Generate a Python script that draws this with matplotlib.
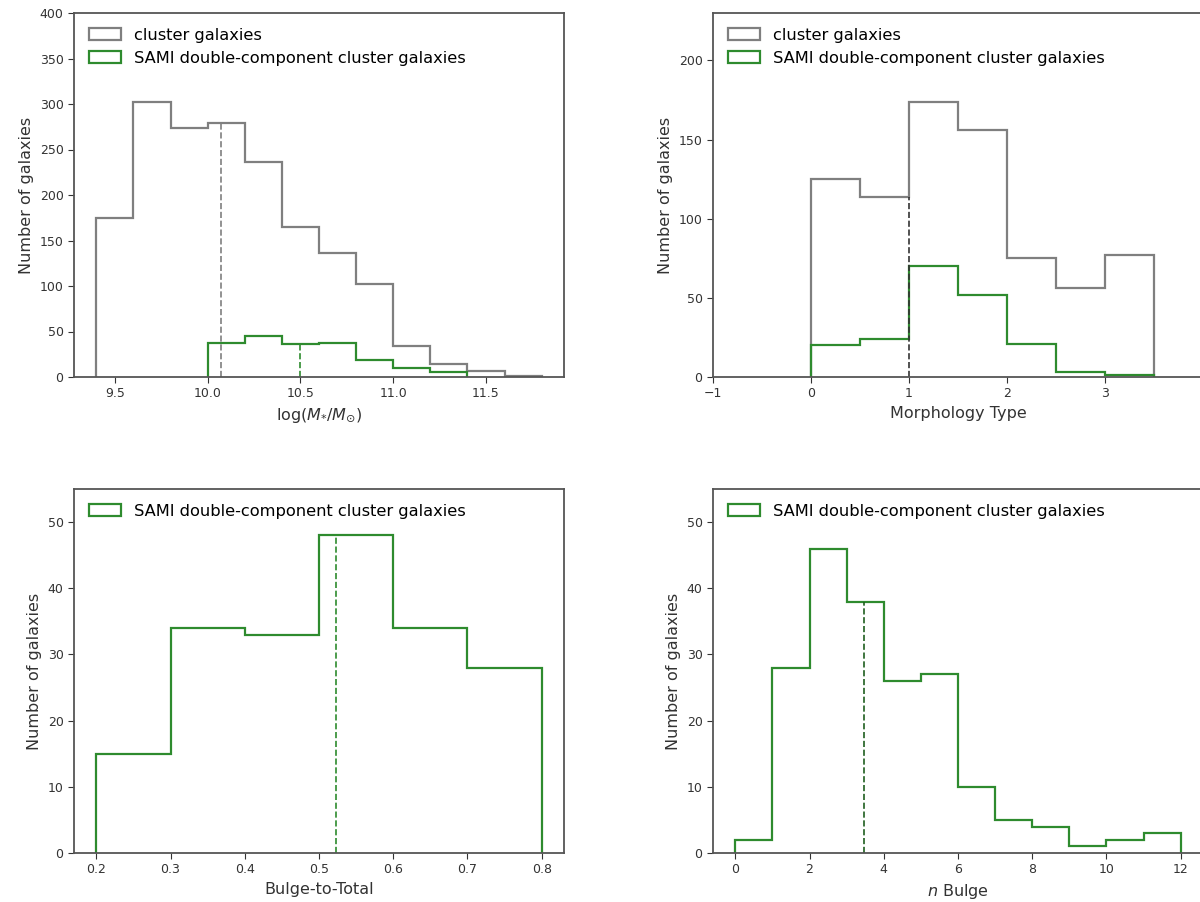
import matplotlib
matplotlib.use("Agg")
import matplotlib.pyplot as plt
import numpy as np

# stellar mass histograms (bin edges + counts)
mass_edges = [9.4, 9.6, 9.8, 10.0, 10.2, 10.4, 10.6, 10.8, 11.0, 11.2, 11.4, 11.6, 11.8]
mass_cluster = [175, 302, 274, 279, 236, 165, 136, 102, 34, 14, 7, 1]
sami_mass_edges = [10.0, 10.2, 10.4, 10.6, 10.8, 11.0, 11.2, 11.4]
mass_sami = [37, 45, 36, 37, 19, 10, 5]
mass_med_cluster = 10.07
mass_med_sami = 10.5

# morphology type
morph_edges = [0, 0.5, 1.0, 1.5, 2.0, 2.5, 3.0, 3.5]
morph_cluster = [125, 114, 174, 156, 75, 56, 77]
morph_sami = [20, 24, 70, 52, 21, 3, 1]
morph_med = 1.0

# bulge-to-total
bt_edges = [0.2, 0.3, 0.4, 0.5, 0.6, 0.7, 0.8]
bt_sami = [15, 34, 33, 48, 34, 28]
bt_med = 0.523

# sersic index of bulge
n_edges = [0, 1, 2, 3, 4, 5, 6, 7, 8, 9, 10, 11, 12]
n_sami = [2, 28, 46, 38, 26, 27, 10, 5, 4, 1, 2, 3]
n_med = 3.47

grey = '#7f7f7f'
green = '#2e8b2e'
lab_cluster = 'cluster galaxies'
lab_sami = 'SAMI double-component cluster galaxies'

plt.rcParams['font.family'] = 'DejaVu Sans'
fig = plt.figure(figsize=(12, 9.02), dpi=100)
W, H = 1200., 902.


def make_ax(x0, y0, x1, y1):
    # pixel box -> figure fraction (right column runs past the edge, as in the cropped original)
    return fig.add_axes([x0 / W, 1 - y1 / H, (x1 - x0) / W, (y1 - y0) / H])


def step(ax, edges, counts, color, label):
    edges = np.array(edges, dtype=float)
    ax.hist(edges[:-1], bins=edges, weights=counts, histtype='step',
            color=color, lw=1.6, label=label)


def med_line(ax, x, edges, counts, color):
    i = np.searchsorted(edges, x, side='right') - 1
    ax.vlines(x, 0, counts[i], colors=color, linestyles='--', lw=1.2)


def style(ax, xlabel):
    ax.set_xlabel(xlabel, fontsize=11.5, color='#333333')
    ax.set_ylabel('Number of galaxies', fontsize=11.5, color='#333333')
    ax.tick_params(labelsize=9, colors='#333333', length=4)
    for s in ax.spines.values():
        s.set_color('#555555')
        s.set_linewidth(1.3)
    ax.legend(loc='upper left', frameon=False, fontsize=11.7)


ax1 = make_ax(74, 13, 564, 377)
step(ax1, mass_edges, mass_cluster, grey, lab_cluster)
step(ax1, sami_mass_edges, mass_sami, green, lab_sami)
med_line(ax1, mass_med_cluster, mass_edges, mass_cluster, grey)
med_line(ax1, mass_med_sami, sami_mass_edges, mass_sami, green)
ax1.set_ylim(0, 400)
ax1.set_xticks([9.5, 10.0, 10.5, 11.0, 11.5])
style(ax1, r'log($M_{*}/M_{\odot}$)')

ax2 = make_ax(713, 13, 1203, 377)
step(ax2, morph_edges, morph_cluster, grey, lab_cluster)
step(ax2, morph_edges, morph_sami, green, lab_sami)
# median sits on the bin edge at 1; line reaches the lower (left) bin
ax2.vlines(morph_med, 0, morph_cluster[1], colors='#333333', linestyles='--', lw=1.2)
ax2.set_xlim(-1, 4)
ax2.set_ylim(0, 230)
ax2.set_yticks([0, 50, 100, 150, 200])
style(ax2, 'Morphology Type')

ax3 = make_ax(74, 489, 564, 853)
step(ax3, bt_edges, bt_sami, green, lab_sami)
med_line(ax3, bt_med, bt_edges, bt_sami, green)
ax3.set_ylim(0, 55)
style(ax3, 'Bulge-to-Total')

ax4 = make_ax(713, 489, 1203, 853)
step(ax4, n_edges, n_sami, green, lab_sami)
med_line(ax4, n_med, n_edges, n_sami, '#1f5f1f')
ax4.set_ylim(0, 55)
ax4.set_xticks([0, 2, 4, 6, 8, 10, 12])
style(ax4, r'$n$ Bulge')

fig.savefig('out.png', dpi=100)
